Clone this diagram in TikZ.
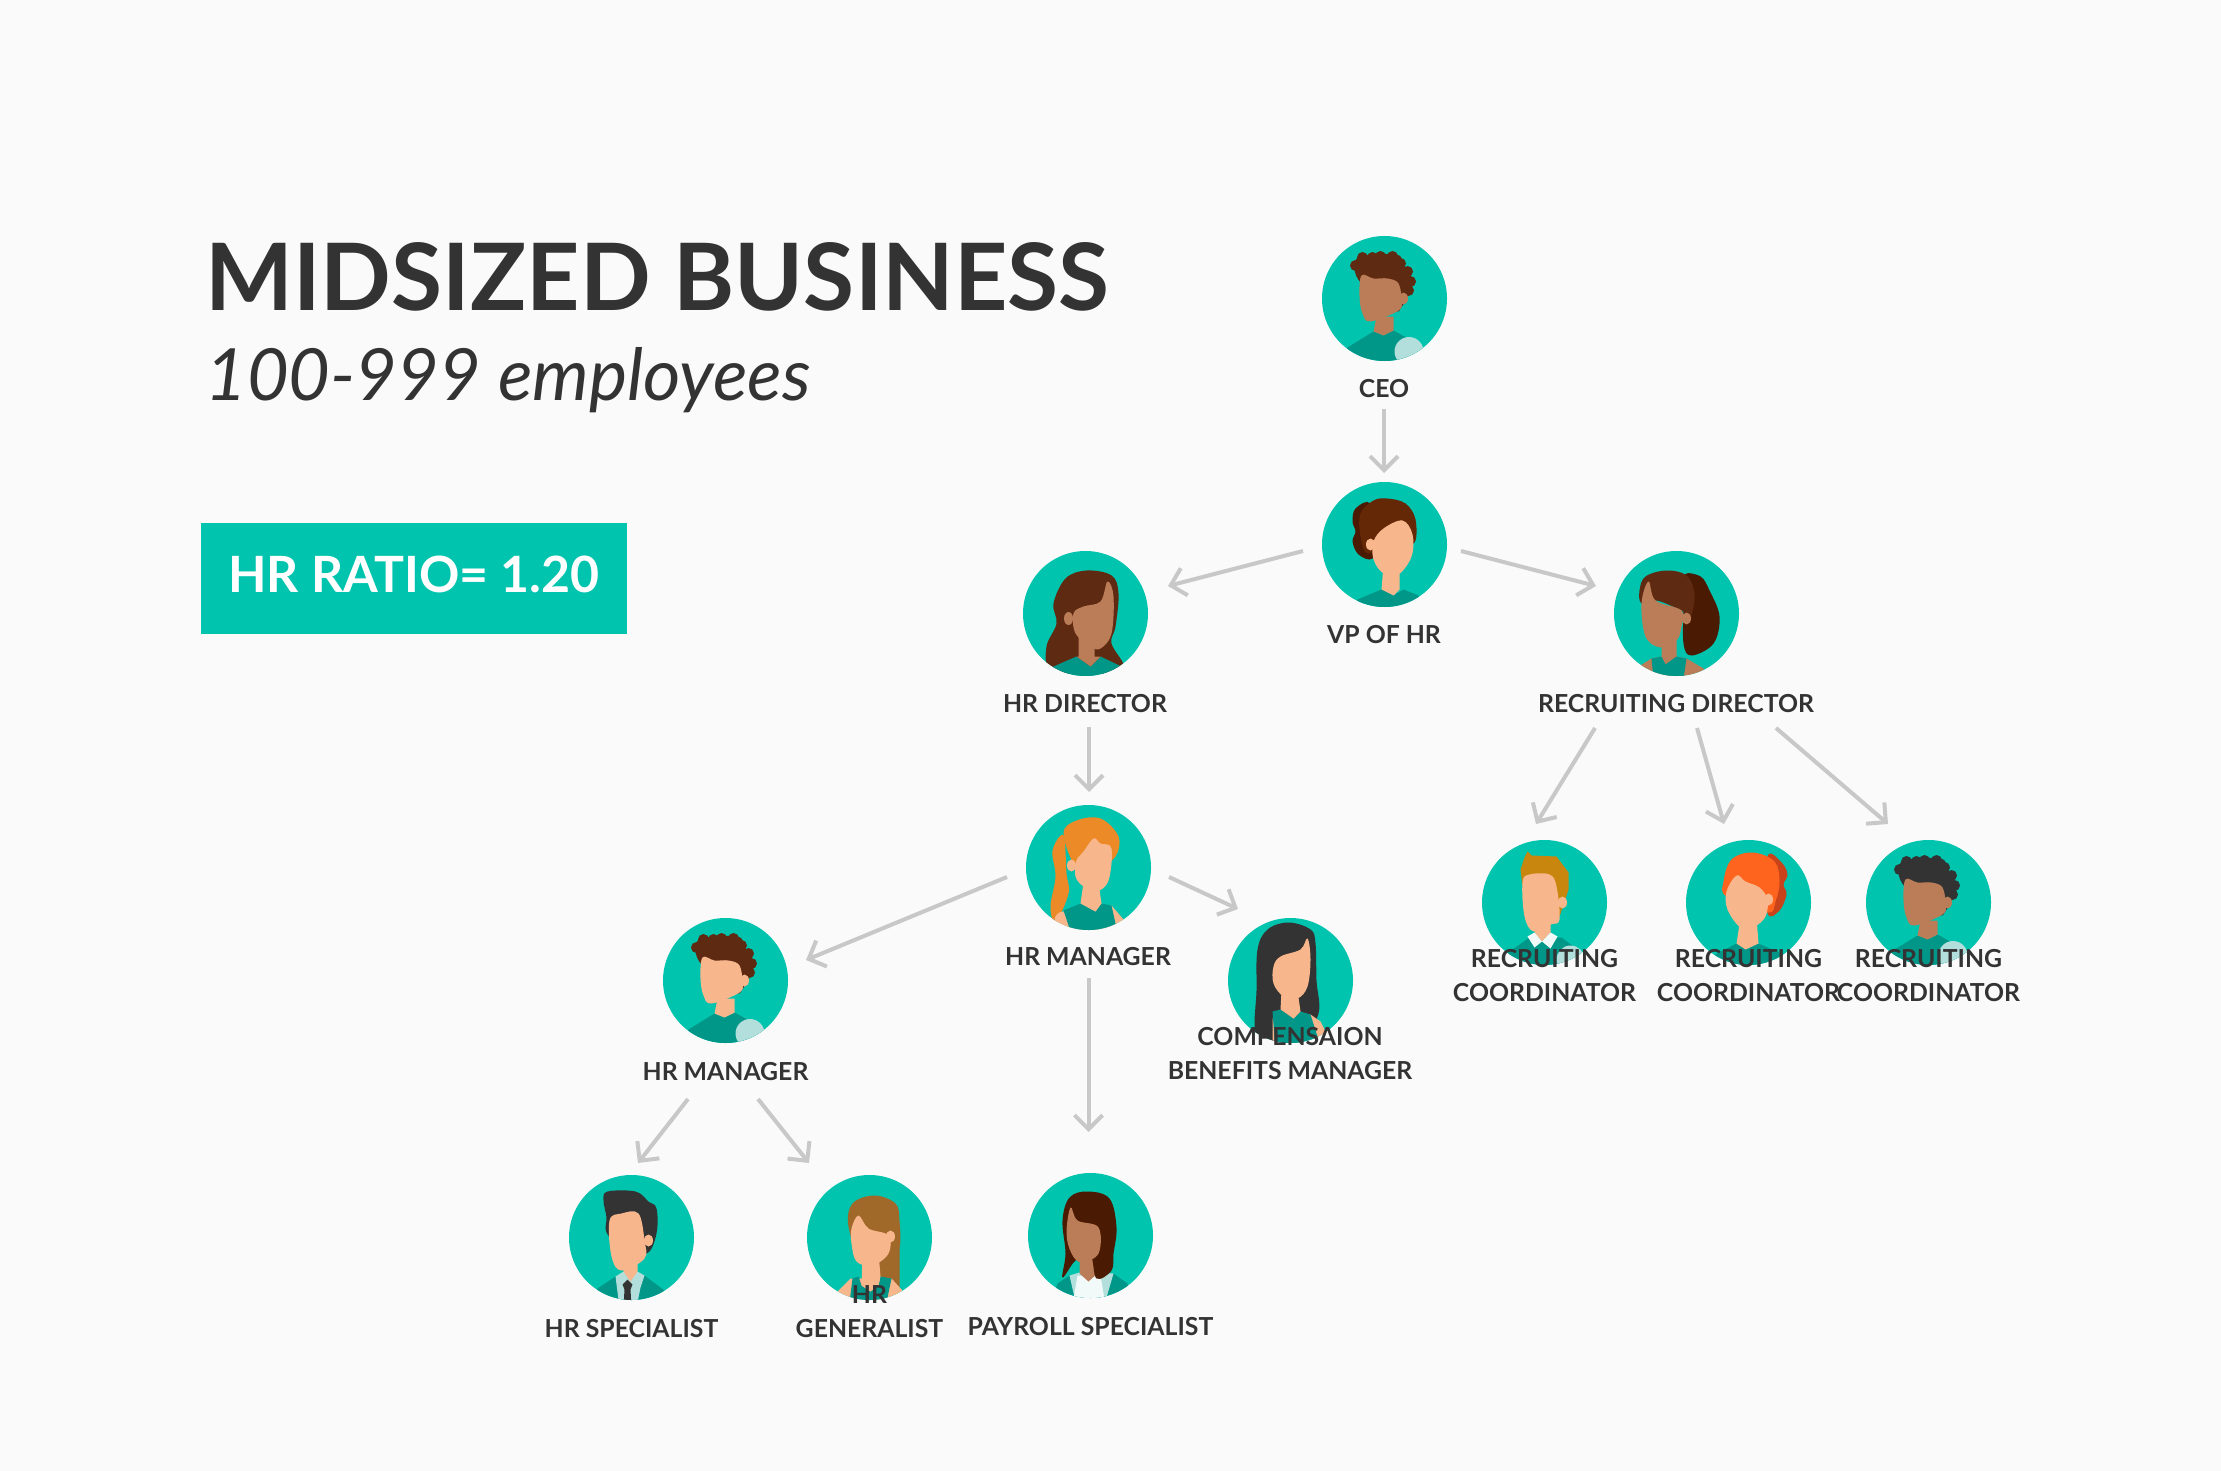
\documentclass[tikz,border=0pt]{standalone}
\usepackage{fontspec}
\setmainfont{Lato}
\usetikzlibrary{arrows.meta}
\definecolor{bgc}{HTML}{FAFAFA}
\definecolor{teal1}{HTML}{00C4AE}
\definecolor{shirt}{HTML}{009688}
\definecolor{pale}{HTML}{B2DFDB}
\definecolor{whitish}{HTML}{F2FAF9}
\definecolor{skinA}{HTML}{F8B68C}
\definecolor{skinB}{HTML}{BB7D58}
\definecolor{brownA}{HTML}{5F2A12}
\definecolor{brownB}{HTML}{652807}
\definecolor{brownC}{HTML}{4B1A02}
\definecolor{orangeH}{HTML}{EC8A27}
\definecolor{redH}{HTML}{FF641E}
\definecolor{redB}{HTML}{C8431A}
\definecolor{goldH}{HTML}{C8860E}
\definecolor{tanH}{HTML}{A0692A}
\definecolor{ink}{HTML}{333333}
\definecolor{linec}{HTML}{C8C8C8}
\tikzset{
  avatarbg/.style={circle,fill=teal1,minimum size=62.5pt,inner sep=0pt,draw=none},
  lbl/.style={anchor=base,inner sep=0pt,text=ink,align=center,font=\bfseries\fontsize{12.4}{17}\selectfont},
  conn/.style={draw=linec,line width=2pt,-{Straight Barb[length=7pt,width=14pt]}},
}
\newcommand\hblob[2]{\fill[#1] plot[smooth cycle,tension=.6] coordinates {#2};}
\newcommand\hpoly[2]{\fill[#1] plot[sharp cycle] coordinates {#2};}
\newcommand\hear[4]{\fill[#1] (#2,#3) ellipse [x radius=4.5,y radius=#4];}
\newcommand\avatar[4]{\node[avatarbg] (#1) at (#2,#3) {};
  \begin{scope}[shift={(#2,#3)}] \clip (0,0) circle [radius=62.5]; #4 \end{scope}}
% man with curly hair: skin, hair
\newcommand\curlyman[2]{%
  \hpoly{shirt}{(-37,49) (-11,33) (-1,37) (9,32) (38,48) (45,70) (-45,70)}
  \fill[pale] (24.5,53) circle [radius=14.5];
  \hpoly{#1}{(-8,18) (9,18) (9,32) (-1,37) (-11,33)}
  \hblob{#2}{(-30,-30) (-24,-42) (12,-44) (20,-32) (28,-16) (22,0) (16,10) (12,13) (0,0) (-23,-15)}
  \foreach \px/\py in {-29/-33,-22/-41,-12/-41,-4/-42,8/-42,16/-35,23/-27,26/-17,24/-8}{\fill[#2] (\px,\py) circle [radius=5.5];}
  \hear{#1}{19}{0}{6}
  \hblob{#1}{(-23,-23) (-11,-20) (3,-20) (14,-15) (17,2) (14,12) (-14,23) (-22,15) (-25,-2)}
}
\begin{document}
\begin{tikzpicture}[x=0.5pt,y=-0.5pt]
\useasboundingbox (0,0) rectangle (2221,1471);
\fill[bgc] (0,0) rectangle (2221,1471);
% title
\node[anchor=base west,inner sep=0pt,text=ink,font=\bfseries\fontsize{46.5}{50}\selectfont] (title) at (205,310) {MIDSIZED BUSINESS};
\node[anchor=base west,inner sep=0pt,text=ink,font=\itshape\fontsize{36}{40}\selectfont] (subtitle) at (205,400) {100-999 employees};
\node[rectangle,fill=teal1,minimum width=213pt,minimum height=55.5pt,inner sep=0pt] (ratio) at (414,578.5) {};
\node[anchor=base,inner sep=0pt,text=white,font=\bfseries\fontsize{25}{30}\selectfont] (ratiotext) at (414,592) {HR RATIO= 1.20};
% avatars
\avatar{ceo}{1384.5}{298.5}{\curlyman{skinB}{brownA}}
\avatar{vp}{1384.5}{544.5}{
  \hpoly{shirt}{(-27,55) (-3,45) (9,51) (19,45) (34,51) (40,70) (-40,70)}
  \hpoly{skinA}{(-1,20) (15,20) (15,45) (9,51) (-3,45)}
  \hblob{brownC}{(-14,-41) (-29,-36) (-32,-23) (-29,-13) (-32,-3) (-26,10) (-12,14) (-7,-8)}
  \hblob{brownB}{(-24,-31) (-11,-44) (3,-46) (21,-41) (31,-25) (29,-1) (6,-8) (-16,9) (-24,-8)}
  \hear{skinA}{-14}{0}{6}
  \hblob{skinA}{(-11,-3) (-1,-16) (18,-24) (28,-10) (27,12) (14,30) (-1,29) (-11,15)}
}
\avatar{rd}{1676.5}{613.5}{
  \hblob{brownC}{(7,-38) (24,-37) (33,-23) (43,3) (37,30) (15,42) (7,30) (7,-10)}
  \hpoly{skinB}{(-15,20) (0,20) (0,43) (10,45) (27,55) (30,70) (-40,70) (-36,52) (-25,45) (-15,43)}
  \hpoly{shirt}{(-25,45) (-15,43) (-11,51) (0,43) (10,45) (7,65) (-23,65)}
  \hblob{brownA}{(-37,-23) (-31,-37) (-10,-43) (10,-38) (18,-20) (14,3) (5,-3) (-20,-13) (-35,-10)}
  \hear{skinB}{10}{5}{6}
  \hblob{skinB}{(-35,-10) (-28,-32) (-21,-13) (5,-3) (5,13) (0,27) (-16,34) (-31,23)}
}
\avatar{hrdir}{1085.5}{613.5}{
  \hblob{brownA}{(-32,-10) (-20,-35) (1,-43) (26,-38) (33,-20) (30,13) (26,30) (38,56) (0,60) (-35,56) (-39,33) (-29,10)}
  \hpoly{shirt}{(-32,53) (-9,43) (5,53) (15,43) (36,53) (40,70) (-40,70)}
  \hpoly{skinB}{(-7,15) (9,15) (9,43) (15,43) (5,53) (-9,43) (-7,43)}
  \hear{skinB}{-17}{5}{6.5}
  \hblob{skinB}{(-12,0) (-2,-7) (15,-12) (22,-32) (28,-17) (26,20) (15,35) (5,33) (-10,20)}
}
\avatar{hrmgr}{1088.5}{867.5}{
  \hblob{orangeH}{(-25,-32) (-36,-17) (-33,9) (-38,39) (-33,55) (-20,26) (-22,6)}
  \hblob{orangeH}{(-25,-34) (-12,-47) (12,-49) (30,-31) (27,-11) (10,0) (-12,0)}
  \fill[skinA] (-25,53) circle [radius=9];
  \hpoly{skinA}{(-25,44) (23,38) (35,52) (30,70) (-32,70) (-34,53)}
  \hpoly{shirt}{(-25,43) (-8,36) (7,44) (13,36) (23,38) (27,56) (27,70) (-16,70)}
  \hpoly{skinA}{(-5,15) (10,15) (13,36) (7,44) (-8,36)}
  \hear{skinA}{-17}{-2}{6}
  \hblob{skinA}{(-12,-7) (-5,-16) (5,-29) (12,-24) (23,-19) (20,13) (8,24) (-5,19) (-13,9)}
}
\avatar{comp}{1290.5}{980.5}{
  \hblob{ink}{(-35,53) (-34,10) (-33,-31) (-23,-51) (-2,-58) (20,-51) (25,-37) (26,0) (28,33) (10,60) (-18,62)}
  \hpoly{skinA}{(-18,38) (20,34) (30,41) (35,51) (27,60) (-15,60) (-18,60)}
  \hpoly{shirt}{(-18,31) (-10,29) (3,38) (10,31) (20,34) (27,56) (20,70) (-15,70)}
  \hpoly{skinA}{(-9,10) (7,10) (10,31) (3,38) (-10,29)}
  \hblob{skinA}{(-17,-14) (-10,-24) (10,-31) (17,-42) (20,-21) (17,6) (7,18) (-7,16) (-17,3)}
}
\avatar{hrleft}{725.5}{980.5}{\curlyman{skinA}{brownA}}
\avatar{spec}{631.5}{1237.5}{
  \hpoly{shirt}{(-34,51) (-16,39) (13,38) (33,53) (40,70) (-40,70)}
  \hpoly{pale}{(-16,39) (-8,34) (6,34) (13,38) (9,50) (5,70) (-12,70)}
  \hpoly{skinA}{(-10,20) (6,20) (6,34) (-1,44) (-8,34)}
  \hblob{ink}{(-28,-37) (-24,-46) (4,-46) (17,-36) (25,-29) (25,-4) (15,16) (-10,10) (-25,-5) (-25,-20)}
  \hear{skinA}{17}{3}{6}
  \hblob{skinA}{(-22,-17) (-10,-24) (7,-24) (13,3) (13,21) (-10,33) (-20,19)}
  \hpoly{ink}{(-4,42) (1,47) (-1,52) (0,70) (-8,70) (-7,52) (-9,47)}
}
\avatar{gen}{869.5}{1237.5}{
  \hblob{tanH}{(-21,-11) (-17,-34) (5,-42) (26,-34) (30,-17) (30,10) (20,20) (-7,23)}
  \hpoly{tanH}{(-7,0) (30,-10) (30,50) (-7,39)}
  \hpoly{skinA}{(-32,54) (-19,41) (22,41) (33,53) (30,70) (-32,70)}
  \hpoly{shirt}{(-17,41) (-11,39) (-8,48) (1,54) (9,48) (11,39) (22,41) (17,65) (-20,65)}
  \hpoly{skinA}{(-7,15) (9,15) (11,39) (9,48) (1,54) (-8,48)}
  \hear{skinA}{21}{-1}{6}
  \hblob{skinA}{(-18,-9) (-11,-22) (-1,-9) (19,-2) (19,16) (3,28) (-13,24) (-18,6)}
}
\avatar{pay}{1090.5}{1235.5}{
  \hpoly{shirt}{(-33,48) (-21,40) (23,38) (37,48) (40,70) (-40,70)}
  \hpoly{pale}{(-21,40) (-11,37) (7,37) (23,38) (16,62) (-16,62)}
  \hpoly{whitish}{(-13,40) (10,40) (15,70) (-18,70)}
  \hpoly{skinB}{(-11,10) (7,10) (7,38) (-2,46) (-11,38)}
  \hblob{brownC}{(-28,42) (-25,18) (-28,-15) (-21,-38) (-3,-44) (19,-37) (26,-8) (23,18) (21,35) (6,43) (0,20) (-15,25)}
  \hblob{skinB}{(-20,-28) (-13,-15) (8,-8) (8,18) (-9,27) (-19,18) (-24,-2)}
}
\avatar{rc1}{1544.5}{902.5}{
  \hpoly{shirt}{(-36,50) (-15,35) (17,35) (37,50) (45,70) (-45,70)}
  \fill[pale] (26,57) circle [radius=14];
  \hpoly{skinA}{(-8,15) (6,15) (6,30) (-2.5,39) (-10,30)}
  \hpoly{goldH}{(-24,-33) (-20,-45) (-17,-51) (-13,-47) (12,-46) (24,-30) (24,-13) (15,14) (-22,-16)}
  \hear{skinA}{18}{0}{6}
  \hblob{skinA}{(-22,-20) (-15,-28) (5,-28) (12,-16) (15,17) (6,22) (-11,29) (-20,14)}
  \hpoly{whitish}{(-17,34) (-10,30) (-2.5,39) (-10,45)}
  \hpoly{whitish}{(-2.5,39) (6,30) (13,34) (6,46)}
}
\avatar{rc2}{1748.5}{902.5}{
  \hpoly{shirt}{(-33,52) (-12,41) (-3,47) (10,41) (35,52) (40,70) (-40,70)}
  \hpoly{skinA}{(-8,15) (8,15) (10,41) (-3,47) (-12,41)}
  \hblob{redB}{(19,-46) (33,-40) (39,-28) (35,-18) (38,-8) (31,8) (19,10)}
  \hblob{redH}{(-25,-21) (-17,-43) (4,-50) (26,-41) (31,-21) (27,-1) (19,10) (-22,-6)}
  \hear{skinA}{20}{-3}{6}
  \hblob{skinA}{(-22,-11) (-12,-27) (-3,-21) (11,-15) (19,-3) (17,14) (6,24) (-8,25) (-21,7)}
}
\avatar{rc3}{1928.5}{902.5}{\curlyman{skinB}{ink}}
% labels
\node[lbl] (tceo) at (1384,397) {CEO};
\node[lbl] (tvp) at (1384,643) {VP OF HR};
\node[lbl] (thrdir) at (1085,712) {HR DIRECTOR};
\node[lbl] (trd) at (1676,712) {RECRUITING DIRECTOR};
\node[lbl] (thrmgr) at (1088,965) {HR MANAGER};
\node[lbl] (thrleft) at (725.5,1080) {HR MANAGER};
\node[lbl] (tcomp) at (1290,1079) {COMPENSAION\\BENEFITS MANAGER};
\node[lbl] (trc1) at (1544.5,1001) {RECRUITING\\COORDINATOR};
\node[lbl] (trc2) at (1748.5,1001) {RECRUITING\\COORDINATOR};
\node[lbl] (trc3) at (1928.5,1001) {RECRUITING\\COORDINATOR};
\node[lbl] (tspec) at (631.5,1337) {HR SPECIALIST};
\node[lbl] (tgen) at (869.5,1337) {HR\\GENERALIST};
\node[lbl] (tpay) at (1090.5,1335) {PAYROLL SPECIALIST};
% connector ends
\coordinate (ceoOut) at (1384,409);   \coordinate (vpIn) at (1384,473);
\coordinate (vpOutR) at (1461,551);   \coordinate (rdIn) at (1596,586);
\coordinate (vpOutL) at (1303,551);   \coordinate (hrdirIn) at (1168,586);
\coordinate (hrdirOut) at (1089,727); \coordinate (hrmgrIn) at (1089,792);
\coordinate (hrmgrOutR) at (1169,877);\coordinate (compIn) at (1238,909);
\coordinate (hrmgrOutL) at (1007,877);\coordinate (hrleftIn) at (806,960);
\coordinate (hrmgrOutD) at (1088.5,978);\coordinate (payIn) at (1088.5,1132);
\coordinate (leftOutA) at (688,1099); \coordinate (specIn) at (638,1163);
\coordinate (leftOutB) at (758,1099); \coordinate (genIn) at (809,1163);
\coordinate (rdOutA) at (1595,728);   \coordinate (rc1In) at (1536,824);
\coordinate (rdOutB) at (1697,728);   \coordinate (rc2In) at (1724,824);
\coordinate (rdOutC) at (1776,728);   \coordinate (rc3In) at (1888,824);
\draw[conn] (ceoOut) -- (vpIn);
\draw[conn] (vpOutR) -- (rdIn);
\draw[conn] (vpOutL) -- (hrdirIn);
\draw[conn] (hrdirOut) -- (hrmgrIn);
\draw[conn] (hrmgrOutR) -- (compIn);
\draw[conn] (hrmgrOutL) -- (hrleftIn);
\draw[conn] (hrmgrOutD) -- (payIn);
\draw[conn] (leftOutA) -- (specIn);
\draw[conn] (leftOutB) -- (genIn);
\draw[conn] (rdOutA) -- (rc1In);
\draw[conn] (rdOutB) -- (rc2In);
\draw[conn] (rdOutC) -- (rc3In);
\end{tikzpicture}
\end{document}
